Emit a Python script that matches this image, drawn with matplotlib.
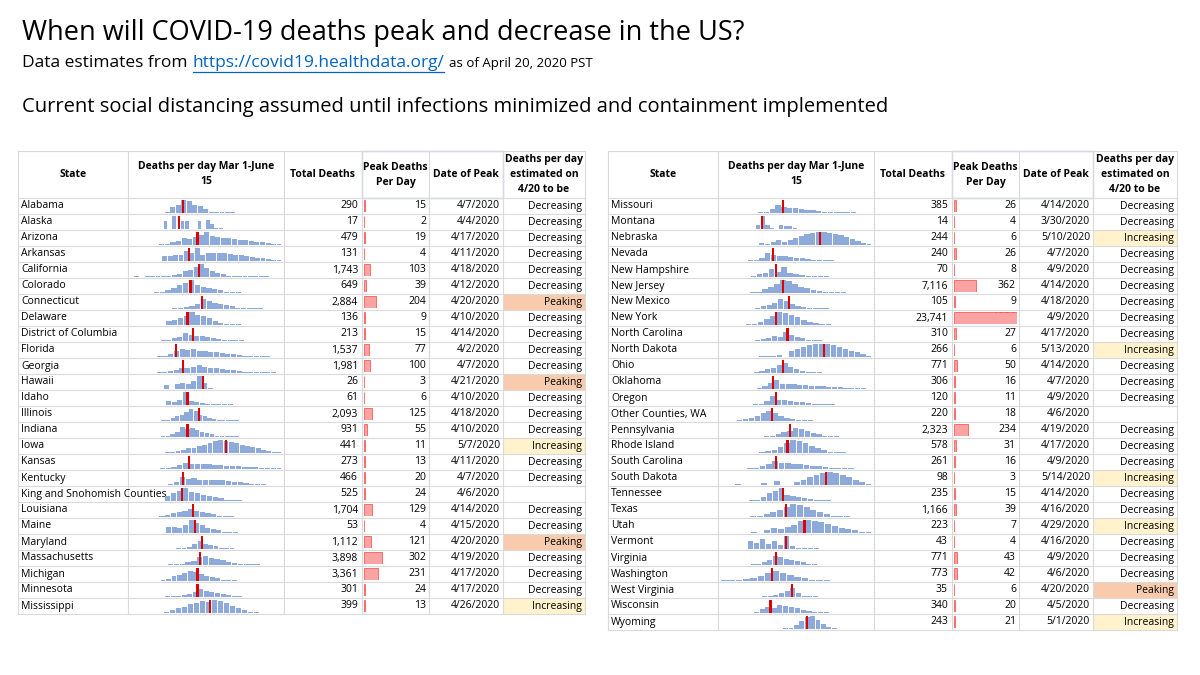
import datetime as dt
import matplotlib.pyplot as plt
from matplotlib.patches import Rectangle

plt.rcParams['font.family'] = ['Open Sans', 'DejaVu Sans']

# ---- data: left table ----
left_states = ['Alabama', 'Alaska', 'Arizona', 'Arkansas', 'California', 'Colorado',
               'Connecticut', 'Delaware', 'District of Columbia', 'Florida', 'Georgia',
               'Hawaii', 'Idaho', 'Illinois', 'Indiana', 'Iowa', 'Kansas', 'Kentucky',
               'King and Snohomish Counties', 'Louisiana', 'Maine', 'Maryland',
               'Massachusetts', 'Michigan', 'Minnesota', 'Mississippi']
left_total = [290, 17, 479, 131, 1743, 649, 2884, 136, 213, 1537, 1981, 26, 61, 2093,
              931, 441, 273, 466, 525, 1704, 53, 1112, 3898, 3361, 301, 399]
left_peak = [15, 2, 19, 4, 103, 39, 204, 9, 15, 77, 100, 3, 6, 125, 55, 11, 13, 20, 24,
             129, 4, 121, 302, 231, 24, 13]
left_date = ['4/7/2020', '4/4/2020', '4/17/2020', '4/11/2020', '4/18/2020', '4/12/2020',
             '4/20/2020', '4/10/2020', '4/14/2020', '4/2/2020', '4/7/2020', '4/21/2020',
             '4/10/2020', '4/18/2020', '4/10/2020', '5/7/2020', '4/11/2020', '4/7/2020',
             '4/6/2020', '4/14/2020', '4/15/2020', '4/20/2020', '4/19/2020', '4/17/2020',
             '4/17/2020', '4/26/2020']
left_status = ['Decreasing'] * 6 + ['Peaking'] + ['Decreasing'] * 4 + ['Peaking'] + \
              ['Decreasing'] * 3 + ['Increasing'] + ['Decreasing'] * 2 + [''] + \
              ['Decreasing'] * 2 + ['Peaking'] + ['Decreasing'] * 3 + ['Increasing']
# sparkline: first day, last day (days after Mar 1), coarse relative daily deaths
left_span = [(24, 78), (23, 65), (20, 107), (22, 107), (2, 98), (12, 78), (17, 98),
             (25, 78), (17, 84), (6, 107), (10, 107), (23, 58), (25, 80), (15, 80),
             (14, 80), (24, 107), (12, 107), (14, 104), (24, 87), (12, 81), (25, 76),
             (17, 81), (18, 100), (17, 79), (24, 79), (23, 91)]
left_spark = [
    [10, 50, 60, 100, 90, 60, 55, 30, 10, 5, 5, 5, 5, 3],
    [60, 0, 100, 0, 60, 60, 0, 0, 60, 0, 70, 40, 10, 5],
    [5, 10, 20, 30, 50, 45, 60, 80, 100, 70, 60, 55, 50, 45, 40, 35, 30, 25, 20, 15, 10, 5],
    [40, 40, 50, 50, 80, 60, 100, 50, 60, 65, 65, 60, 55, 50, 45, 40, 30, 25, 20, 15, 10, 5],
    [5, 0, 5, 5, 5, 5, 10, 15, 25, 45, 55, 75, 100, 70, 45, 30, 20, 10, 8, 5, 5, 5, 5, 5, 5],
    [3, 5, 10, 20, 40, 60, 75, 100, 60, 50, 40, 30, 20, 10, 5, 5],
    [3, 3, 3, 5, 8, 15, 25, 40, 80, 60, 50, 40, 30, 20, 10, 5, 5, 5, 5, 3],
    [30, 40, 50, 70, 100, 80, 70, 50, 30, 15, 10, 5, 5],
    [3, 5, 10, 20, 30, 60, 45, 40, 35, 30, 20, 15, 10, 5, 5, 5, 3],
    [3, 0, 3, 5, 10, 25, 45, 60, 55, 60, 50, 45, 40, 35, 30, 25, 20, 15, 10, 8, 5, 5, 5, 3, 3],
    [3, 3, 5, 10, 15, 25, 40, 35, 45, 60, 45, 40, 35, 30, 25, 20, 15, 10, 8, 5, 5, 5, 5, 3],
    [30, 0, 40, 50, 40, 60, 100, 50, 10],
    [30, 20, 40, 100, 30, 20, 15, 10, 5, 5, 5, 5, 3, 3],
    [3, 3, 5, 10, 20, 35, 50, 70, 90, 75, 50, 35, 25, 15, 10, 5, 5, 5, 5, 3],
    [3, 3, 5, 10, 25, 40, 80, 60, 70, 55, 40, 30, 20, 10, 5, 5, 5, 5, 3],
    [5, 10, 15, 25, 35, 40, 55, 65, 80, 90, 100, 95, 85, 75, 65, 55, 45, 35, 25, 15, 10, 5],
    [3, 3, 5, 8, 15, 30, 50, 40, 35, 35, 35, 30, 28, 25, 22, 20, 18, 15, 12, 10, 8, 5, 5],
    [3, 3, 3, 5, 25, 60, 45, 55, 40, 40, 40, 38, 35, 30, 25, 20, 15, 10, 5, 5, 3, 3],
    [40, 60, 80, 100, 70, 60, 50, 40, 30, 20, 10, 5, 5, 3, 3],
    [3, 3, 5, 15, 30, 40, 50, 60, 50, 40, 30, 20, 10, 5, 5, 3, 3],
    [50, 50, 40, 60, 100, 80, 60, 40, 30, 20, 10, 5, 5],
    [3, 3, 3, 3, 5, 10, 15, 40, 60, 40, 30, 20, 10, 5, 5, 3, 3],
    [3, 3, 5, 5, 10, 20, 30, 60, 70, 55, 45, 35, 25, 15, 10, 5, 5, 5, 3, 3],
    [3, 5, 15, 35, 50, 60, 80, 70, 55, 40, 30, 20, 10, 5, 5, 3],
    [5, 5, 10, 15, 25, 40, 60, 50, 40, 30, 20, 15, 10, 5],
    [10, 20, 35, 50, 70, 80, 90, 85, 100, 90, 75, 55, 35, 20, 10, 5],
]

# ---- data: right table ----
right_states = ['Missouri', 'Montana', 'Nebraska', 'Nevada', 'New Hampshire', 'New Jersey',
                'New Mexico', 'New York', 'North Carolina', 'North Dakota', 'Ohio',
                'Oklahoma', 'Oregon', 'Other Counties, WA', 'Pennsylvania', 'Rhode Island',
                'South Carolina', 'South Dakota', 'Tennessee', 'Texas', 'Utah', 'Vermont',
                'Virginia', 'Washington', 'West Virginia', 'Wisconsin', 'Wyoming']
right_total = [385, 14, 244, 240, 70, 7116, 105, 23741, 310, 266, 771, 306, 120, 220,
               2323, 578, 261, 98, 235, 1166, 223, 43, 771, 773, 35, 340, 243]
right_peak = [26, 4, 6, 26, 8, 362, 9, 1036, 27, 6, 50, 16, 11, 18, 234, 31, 16, 3, 15,
              39, 7, 4, 43, 42, 6, 20, 21]
right_date = ['4/14/2020', '3/30/2020', '5/10/2020', '4/7/2020', '4/9/2020', '4/14/2020',
              '4/18/2020', '4/9/2020', '4/17/2020', '5/13/2020', '4/14/2020', '4/7/2020',
              '4/9/2020', '4/6/2020', '4/19/2020', '4/17/2020', '4/9/2020', '5/14/2020',
              '4/14/2020', '4/16/2020', '4/29/2020', '4/16/2020', '4/9/2020', '4/6/2020',
              '4/20/2020', '4/5/2020', '5/1/2020']
right_status = ['Decreasing', 'Decreasing', 'Increasing'] + ['Decreasing'] * 6 + \
               ['Increasing'] + ['Decreasing'] * 3 + [''] + ['Decreasing'] * 3 + \
               ['Increasing'] + ['Decreasing'] * 2 + ['Increasing'] + ['Decreasing'] * 3 + \
               ['Peaking', 'Decreasing', 'Increasing']
right_span = [(18, 100), (25, 54), (27, 107), (15, 80), (21, 77), (8, 93), (24, 77),
              (13, 87), (24, 76), (27, 107), (19, 76), (17, 107), (14, 89), (7, 74),
              (18, 88), (27, 93), (14, 103), (10, 107), (20, 82), (16, 101), (21, 107),
              (19, 70), (13, 72), (0, 88), (29, 69), (19, 81), (44, 82)]
right_spark = [
    [3, 3, 5, 10, 30, 60, 50, 40, 35, 30, 25, 20, 15, 10, 8, 5, 5, 5, 5, 3],
    [30, 100, 30, 10, 0, 30, 20, 20, 5],
    [15, 10, 20, 40, 25, 40, 55, 70, 85, 95, 100, 100, 95, 85, 75, 60, 45, 30, 15, 5],
    [3, 5, 10, 20, 60, 50, 40, 35, 30, 25, 20, 15, 10, 8, 5, 5],
    [10, 20, 30, 60, 40, 80, 30, 20, 15, 10, 8, 5, 5],
    [3, 3, 3, 5, 10, 30, 50, 70, 100, 90, 70, 50, 35, 25, 15, 10, 5, 5, 5, 3],
    [10, 20, 30, 50, 80, 60, 40, 25, 15, 10, 5, 5, 5],
    [3, 5, 10, 25, 45, 70, 100, 90, 75, 60, 40, 25, 15, 8, 5, 3, 3],
    [10, 15, 25, 40, 30, 70, 50, 30, 20, 10, 5, 5, 3],
    [10, 10, 10, 15, 0, 50, 65, 80, 90, 97, 100, 98, 90, 80, 65, 50, 35, 20, 10],
    [3, 5, 15, 30, 40, 60, 80, 50, 30, 15, 10, 5, 5, 3],
    [3, 3, 5, 20, 50, 70, 40, 35, 35, 30, 28, 25, 22, 20, 17, 15, 12, 10, 8, 5, 5, 3],
    [3, 3, 5, 10, 30, 70, 40, 35, 30, 25, 20, 15, 10, 8, 5, 5, 3, 3],
    [3, 5, 15, 20, 35, 60, 80, 60, 40, 25, 15, 10, 5, 5, 3, 3],
    [3, 3, 3, 5, 10, 20, 35, 50, 70, 60, 45, 30, 20, 10, 5, 5, 3],
    [10, 15, 25, 45, 75, 100, 90, 75, 55, 35, 20, 10, 5, 5, 3],
    [3, 5, 10, 20, 40, 60, 50, 45, 40, 35, 30, 25, 20, 15, 10, 8, 5, 5, 3, 3],
    [10, 0, 0, 0, 15, 0, 30, 0, 0, 20, 40, 60, 80, 95, 100, 95, 80, 60, 40, 20, 5],
    [5, 10, 30, 60, 80, 100, 50, 40, 30, 20, 15, 10, 5, 5, 3],
    [3, 5, 10, 20, 35, 55, 75, 100, 90, 75, 55, 35, 20, 10, 5, 5, 3, 3],
    [10, 0, 25, 40, 30, 50, 60, 90, 100, 95, 85, 70, 55, 40, 30, 20, 10, 5],
    [60, 50, 80, 40, 60, 30, 100, 20, 10, 5, 5, 5],
    [3, 3, 5, 10, 20, 40, 70, 60, 50, 40, 30, 20, 10, 5, 3],
    [5, 5, 10, 15, 25, 40, 60, 80, 60, 45, 30, 20, 10, 5, 5, 3, 3],
    [10, 10, 15, 30, 50, 70, 30, 10, 5, 5],
    [3, 10, 30, 50, 40, 60, 55, 45, 35, 25, 15, 10, 5, 5, 3],
    [5, 10, 30, 60, 90, 100, 70, 40, 15, 5],
]

headers = ['State', 'Deaths per day Mar 1-June\n15', 'Total Deaths', 'Peak Deaths\nPer Day',
           'Date of Peak', 'Deaths per day\nestimated on\n4/20 to be']
status_fill = {'Peaking': '#f8cbad', 'Increasing': '#fff2cc'}
start_date = dt.date(2020, 3, 1)
max_peak = 1036

W, H = 1200, 675
fig = plt.figure(figsize=(12, 6.75), dpi=100)
ax = fig.add_axes([0, 0, 1, 1])
ax.set_xlim(0, W)
ax.set_ylim(H, 0)
ax.axis('off')


def px_axes(x0, y0, w, h):
    a = fig.add_axes([x0 / W, 1 - (y0 + h) / H, w / W, h / H])
    a.axis('off')
    return a


def text_right_edge(t):
    fig.canvas.draw()
    bb = t.get_window_extent()
    return bb.x1  # figure pixels == data x here


ax.text(22, 33, 'When will COVID-19 deaths peak and decrease in the US?', fontsize=19.5,
        va='center', color='black')
t1 = ax.text(22, 63, 'Data estimates from', fontsize=12.5, va='center')
x_link = text_right_edge(t1) + 5
t2 = ax.text(x_link, 63, 'https://covid19.healthdata.org/', fontsize=12.5, va='center',
             color='#0563c1')
x_end = text_right_edge(t2)
ax.plot([x_link, x_end], [72, 72], color='#0563c1', lw=0.9)
ax.text(x_end + 5, 64, 'as of April 20, 2020 PST', fontsize=9.5, va='center')
ax.text(22, 107, 'Current social distancing assumed until infections minimized and '
        'containment implemented', fontsize=14.5, va='center')


def draw_table(x_cols, states, total, peak, dates, status, spans, sparks):
    top, head_h, row_h = 151, 47, 16
    n = len(states)
    bottom = top + head_h + n * row_h
    grid = '#dadada'
    for j, h in enumerate(headers):
        cx = (x_cols[j] + x_cols[j + 1]) / 2
        ax.text(cx, top + head_h / 2, h, ha='center', va='center', fontsize=7.5,
                fontweight='bold', linespacing=1.5)
    ax.plot([x_cols[0], x_cols[-1]], [top, top], color=grid, lw=0.8)
    for x in x_cols:
        ax.plot([x, x], [top, bottom], color=grid, lw=0.8)
    ax.add_patch(Rectangle((x_cols[3], top), x_cols[5] - x_cols[3], head_h, fill=False,
                           ec='#9bb7e0', lw=0.9))
    for i in range(n):
        y0 = top + head_h + i * row_h
        yc = y0 + row_h / 2
        if status[i] in status_fill:
            ax.add_patch(Rectangle((x_cols[5], y0), x_cols[6] - x_cols[5], row_h,
                                   color=status_fill[status[i]], lw=0))
        ax.plot([x_cols[0], x_cols[-1]], [y0, y0], color=grid, lw=0.8)
        ax.text(x_cols[0] + 3, yc, states[i], va='center', fontsize=7.5, zorder=5)
        ax.text(x_cols[3] - 4, yc, f'{total[i]:,}', va='center', ha='right', fontsize=7.5)
        ax.text(x_cols[4] - 3, yc, str(peak[i]), va='center', ha='right', fontsize=7.5,
                zorder=5)
        ax.text(x_cols[5] - 3, yc, dates[i], va='center', ha='right', fontsize=7.5)
        ax.text(x_cols[6] - 3, yc, status[i], va='center', ha='right', fontsize=7.5)
        # sparkline
        sa = px_axes(x_cols[1] + 3, y0 + 2, x_cols[2] - x_cols[1] - 6, row_h - 3)
        sa.set_xlim(0, 106)
        sa.set_ylim(0, 100)
        s0, s1 = spans[i]
        vals = sparks[i]
        bw = (s1 - s0) / len(vals)
        sa.bar([s0 + k * bw for k in range(len(vals))], [max(v, 2) for v in vals],
               width=bw * 0.9, align='edge', color='#8eaadb', lw=0)
        m, d, yr = map(int, dates[i].split('/'))
        pday = (dt.date(yr, m, d) - start_date).days
        sa.bar(pday, 100, width=1.6, color='#e00000', lw=0)
        # data bar for peak deaths
        da = px_axes(x_cols[3] + 2, y0 + 2, x_cols[4] - x_cols[3] - 4, row_h - 4)
        da.set_xlim(0, max_peak)
        da.set_ylim(0, 1)
        da.barh(0.5, peak[i], height=1, color='#f9a3a3', ec='#ff5a5a', lw=0.6)
    ax.plot([x_cols[0], x_cols[-1]], [bottom, bottom], color=grid, lw=0.8)


draw_table([18, 128, 284, 362, 429, 503, 585], left_states, left_total, left_peak,
           left_date, left_status, left_span, left_spark)
draw_table([608, 718, 874, 952, 1019, 1093, 1177], right_states, right_total, right_peak,
           right_date, right_status, right_span, right_spark)

fig.savefig('out.png', dpi=100)
